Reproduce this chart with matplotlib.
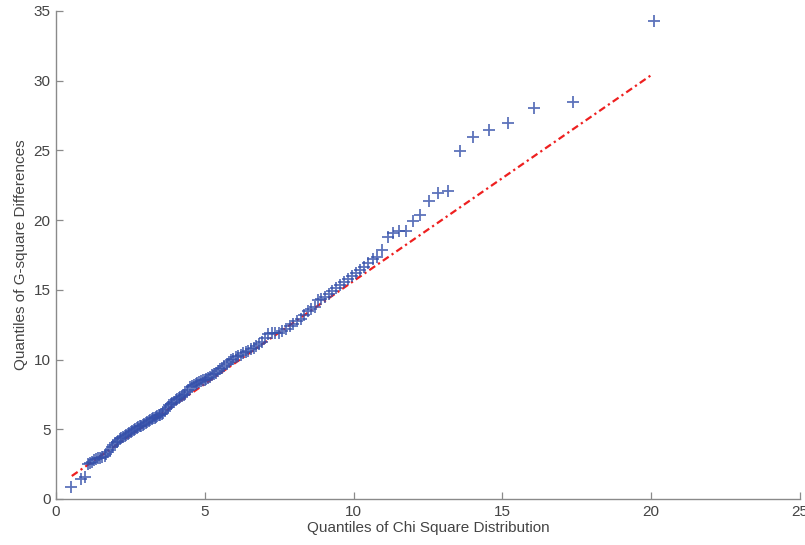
import numpy as np
import matplotlib.pyplot as plt

# quantile pairs
chi_q = [0.49, 0.85, 0.98, 1.06, 1.14, 1.21, 1.28, 1.35, 1.42, 1.49, 1.56, 1.63, 1.69, 1.75,
         1.81, 1.87, 1.93, 1.98, 2.04, 2.09, 2.15, 2.20, 2.25, 2.31, 2.36, 2.41, 2.46, 2.51,
         2.56, 2.61, 2.66, 2.71, 2.76, 2.81, 2.86, 2.91, 2.96, 3.01, 3.06, 3.11, 3.16, 3.21,
         3.26, 3.31, 3.36, 3.41, 3.46, 3.51, 3.56, 3.61, 3.66, 3.71, 3.76, 3.81, 3.86, 3.91,
         3.96, 4.02, 4.07, 4.12, 4.18, 4.23, 4.29, 4.34, 4.40, 4.45, 4.51, 4.57, 4.63, 4.69,
         4.75, 4.81, 4.87, 4.93, 4.99, 5.05, 5.12, 5.18, 5.25, 5.31, 5.38, 5.45, 5.52, 5.59,
         5.66, 5.73, 5.81, 5.88, 5.96, 6.04, 6.12, 6.20, 6.28, 6.37, 6.46, 6.55, 6.64, 6.73,
         6.83, 6.93, 7.03, 7.14, 7.25, 7.36, 7.48, 7.60, 7.72, 7.85, 7.98, 8.10, 8.22, 8.34,
         8.46, 8.58, 8.70, 8.80, 8.92, 9.04, 9.16, 9.29, 9.42, 9.55, 9.68, 9.81, 9.94, 10.07,
         10.20, 10.35, 10.50, 10.65, 10.80, 10.96, 11.14, 11.32, 11.53, 11.77, 11.98, 12.24,
         12.52, 12.83, 13.16, 13.56, 14.00, 14.54, 15.20, 16.06, 17.37, 20.09]
g_q = [0.84, 1.45, 1.58, 2.48, 2.58, 2.68, 2.78, 2.86, 2.92, 2.96, 3.00, 3.08, 3.22, 3.38,
       3.55, 3.70, 3.88, 4.00, 4.10, 4.18, 4.27, 4.35, 4.43, 4.52, 4.58, 4.65, 4.72, 4.80,
       4.87, 4.93, 5.00, 5.08, 5.14, 5.20, 5.27, 5.33, 5.40, 5.47, 5.54, 5.62, 5.69, 5.74,
       5.79, 5.84, 5.89, 5.94, 6.00, 6.06, 6.12, 6.19, 6.30, 6.45, 6.62, 6.74, 6.80, 6.86,
       6.94, 7.08, 7.18, 7.26, 7.33, 7.40, 7.48, 7.56, 7.70, 7.85, 8.00, 8.12, 8.20, 8.26,
       8.32, 8.38, 8.44, 8.50, 8.56, 8.62, 8.70, 8.78, 8.86, 8.95, 9.06, 9.18, 9.30, 9.43,
       9.56, 9.70, 9.84, 9.96, 10.06, 10.16, 10.26, 10.35, 10.44, 10.54, 10.64, 10.74, 10.84,
       10.96, 11.10, 11.26, 11.52, 11.82, 11.88, 11.90, 11.93, 12.02, 12.18, 12.38, 12.58,
       12.76, 12.92, 13.20, 13.45, 13.62, 13.78, 14.25, 14.36, 14.48, 14.68, 14.92, 15.16,
       15.38, 15.58, 15.80, 16.02, 16.22, 16.42, 16.62, 16.90, 17.18, 17.34, 17.87, 18.82,
       19.08, 19.22, 19.25, 19.97, 20.37, 21.35, 21.97, 22.07, 24.97, 25.94, 26.47, 26.95,
       28.02, 28.47, 34.31]

# reference line end points
ref_x = [0.53, 20.0]
ref_y = [1.65, 30.4]

plt.rcParams['font.family'] = ['Liberation Sans', 'DejaVu Sans']

fig = plt.figure(figsize=(8.05, 5.45), dpi=100)
ax = fig.add_axes([56/805, 46/545, 744/805, 488/545])

ax.plot(ref_x, ref_y, color='#ee2020', lw=1.6, linestyle=(0, (3.2, 1.6, 1, 1.6)))
ax.plot(chi_q, g_q, '+', color='#3450aa', markersize=8, markeredgewidth=1.3, alpha=0.8)

ax.set_xlim(0, 25)
ax.set_ylim(0, 35)
ax.set_xticks([0, 5, 10, 15, 20, 25])
ax.set_yticks([0, 5, 10, 15, 20, 25, 30, 35])

for s in ['top', 'right']:
    ax.spines[s].set_visible(False)
for s in ['left', 'bottom']:
    ax.spines[s].set_color('#8a8a8a')
    ax.spines[s].set_linewidth(1.0)
ax.tick_params(direction='in', length=5, width=0.9, color='#8a8a8a',
               labelcolor='#444444', labelsize=11, pad=4)

ax.set_xlabel('Quantiles of Chi Square Distribution', fontsize=11, color='#444444', labelpad=2)
ax.set_ylabel('Quantiles of G-square Differences', fontsize=11, color='#444444', labelpad=4)

fig.savefig('out.png', dpi=100)
